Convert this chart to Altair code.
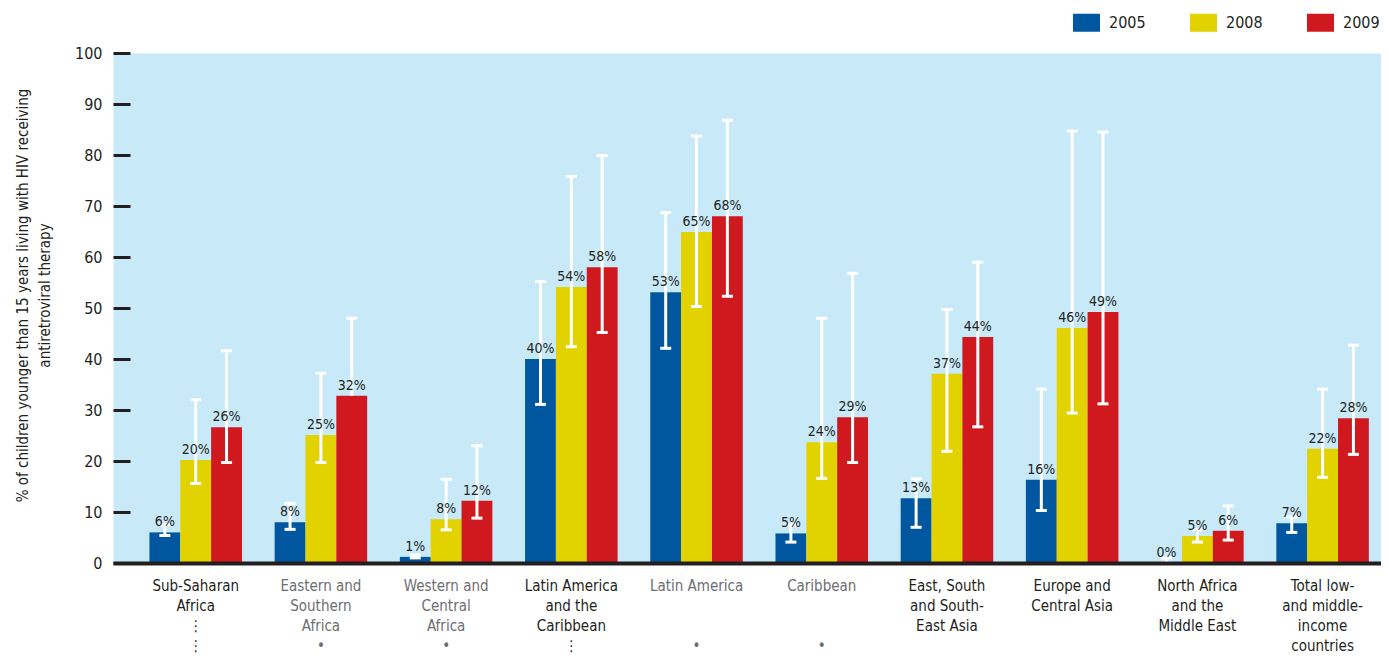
import json
import altair as alt
import pandas as pd

FONT = "'DejaVu Sans Condensed', 'DejaVu Sans', sans-serif"
INK = "#231f20"
GRAY = "#6d6e71"
BL = "\u2800"

regions = [
    "Sub-Saharan Africa", "Eastern and Southern Africa", "Western and Central Africa",
    "Latin America and the Caribbean", "Latin America", "Caribbean",
    "East, South and South-East Asia", "Europe and Central Asia",
    "North Africa and the Middle East", "Total low- and middle-income countries",
]
label_lines = [
    ["Sub-Saharan", "Africa", "⋮", "⋮"],
    ["Eastern and", "Southern", "Africa", "•"],
    ["Western and", "Central", "Africa", "•"],
    ["Latin America", "and the", "Caribbean", "⋮"],
    ["Latin America", BL, BL, "•"],
    ["Caribbean", BL, BL, "•"],
    ["East, South", "and South-", "East Asia"],
    ["Europe and", "Central Asia"],
    ["North Africa", "and the", "Middle East"],
    ["Total low-", "and middle-", "income", "countries"],
]
sub_regions = ["Eastern and Southern Africa", "Western and Central Africa", "Latin America", "Caribbean"]

years = ["2005", "2008", "2009"]
colors = ["#00579f", "#e1d200", "#d0191f"]

values_2005 = [6.0, 8.0, 1.2, 40.0, 53.1, 5.8, 12.7, 16.3, 0.0, 7.8]
values_2008 = [20.2, 25.1, 8.6, 54.1, 64.9, 23.7, 37.1, 46.1, 5.3, 22.4]
values_2009 = [26.6, 32.8, 12.2, 58.0, 68.0, 28.6, 44.3, 49.2, 6.3, 28.4]

labels_2005 = ["6%", "8%", "1%", "40%", "53%", "5%", "13%", "16%", "0%", "7%"]
labels_2008 = ["20%", "25%", "8%", "54%", "65%", "24%", "37%", "46%", "5%", "22%"]
labels_2009 = ["26%", "32%", "12%", "58%", "68%", "29%", "44%", "49%", "6%", "28%"]

low_2005 = [5.4, 6.6, 1.0, 31.1, 42.1, 4.1, 7.0, 10.3, 0.0, 6.0]
high_2005 = [7.5, 11.7, 1.6, 55.2, 68.7, 7.5, 16.5, 34.1, 1.0, 9.0]
low_2008 = [15.6, 19.7, 6.5, 42.4, 50.3, 16.6, 21.9, 29.4, 4.1, 16.8]
high_2008 = [32.0, 37.2, 16.4, 75.8, 83.7, 48.0, 49.7, 84.7, 6.5, 34.1]
low_2009 = [19.7, None, 8.8, 45.2, 52.3, 19.7, 26.7, 31.2, 4.5, 21.3]
high_2009 = [41.6, 48.0, 23.0, 79.9, 86.8, 56.8, 59.0, 84.5, 11.2, 42.7]

rows = []
for year, vals, labs, lows, highs in zip(
    years,
    [values_2005, values_2008, values_2009],
    [labels_2005, labels_2008, labels_2009],
    [low_2005, low_2008, low_2009],
    [high_2005, high_2008, high_2009],
):
    for i, r in enumerate(regions):
        rows.append(dict(region=r, year=year, value=vals[i], label=labs[i],
                         low=lows[i], high=highs[i],
                         base=lows[i] if lows[i] is not None else vals[i]))
df = pd.DataFrame(rows)

label_expr = "".join(
    f"datum.value == {json.dumps(r)} ? {json.dumps(lines, ensure_ascii=False)} : "
    for r, lines in zip(regions, label_lines)
) + "datum.value"

x_axis = alt.Axis(
    title=None, labelAngle=0, labelExpr=label_expr,
    labelColor={"condition": {"test": f"indexof({json.dumps(sub_regions)}, datum.value) >= 0",
                              "value": GRAY}, "value": INK},
    labelFont=FONT, labelFontSize=15, labelLineHeight=20, labelPadding=15,
    labelBaseline="top", ticks=False, domainColor=INK, domainWidth=4, zindex=1,
)
x_enc = alt.X("region:N", sort=regions, axis=x_axis,
              scale=alt.Scale(paddingInner=0.261, paddingOuter=0.194, align=0.75))
xo_enc = alt.XOffset("year:N", sort=years, scale=alt.Scale(paddingInner=0, paddingOuter=0))

y_axis = alt.Axis(
    values=list(range(0, 101, 10)), tickSize=17, tickWidth=3, tickColor=INK, domain=False,
    grid=False, offset=-17, labelPadding=11, labelFont=FONT, labelFontSize=16, labelColor=INK,
    titleFont=FONT, titleFontSize=15, titleFontWeight="normal", titleColor=INK,
    titleAngle=270, titleX=-103, titleY=242, titleAlign="center", titleBaseline="alphabetic",
    titleLineHeight=22, zindex=1,
)
Y_TITLE = ["% of children younger than 15 years living with HIV receiving", "antiretroviral therapy"]


def y_enc(field):
    return alt.Y(f"{field}:Q", title=Y_TITLE, axis=y_axis,
                 scale=alt.Scale(domain=[0, 100], nice=False, zero=True))


base = alt.Chart(df)

bars = base.mark_bar().encode(
    x=x_enc, xOffset=xo_enc, y=y_enc("value"),
    color=alt.Color("year:N", scale=alt.Scale(domain=years, range=colors),
                    legend=alt.Legend(
                        title=None, orient="none", legendX=960, legendY=-44,
                        direction="horizontal", symbolType="M-1,-0.667H1V0.667H-1Z",
                        symbolSize=729, symbolStrokeWidth=0, symbolOpacity=1,
                        labelFont=FONT, labelFontSize=16, labelColor=INK, labelOffset=9,
                        columnPadding=44, padding=0)),
)
rules = base.mark_rule(color="white", strokeWidth=3).encode(
    x=x_enc, xOffset=xo_enc, y=y_enc("base"), y2="high:Q")
caps_hi = base.mark_tick(color="white", thickness=3, size=11, opacity=1).encode(
    x=x_enc, xOffset=xo_enc, y=y_enc("high"))
caps_lo = base.transform_filter("isValid(datum.low)").mark_tick(
    color="white", thickness=3, size=11, opacity=1).encode(
    x=x_enc, xOffset=xo_enc, y=y_enc("low"))
texts = base.mark_text(dy=-6, baseline="alphabetic", font=FONT, fontSize=14, color=INK).encode(
    x=x_enc, xOffset=xo_enc, y=y_enc("value"), text="label:N")

chart = alt.layer(bars, rules, caps_hi, caps_lo, texts).properties(
    width=1268, height=510,
    autosize=alt.AutoSizeParams(type="none"),
    padding={"left": 105, "top": 45, "right": 0, "bottom": 90},
).configure_view(fill="#c8e9f8", stroke="transparent")

chart.save("out.html", embed_options={"renderer": "svg", "actions": False})
